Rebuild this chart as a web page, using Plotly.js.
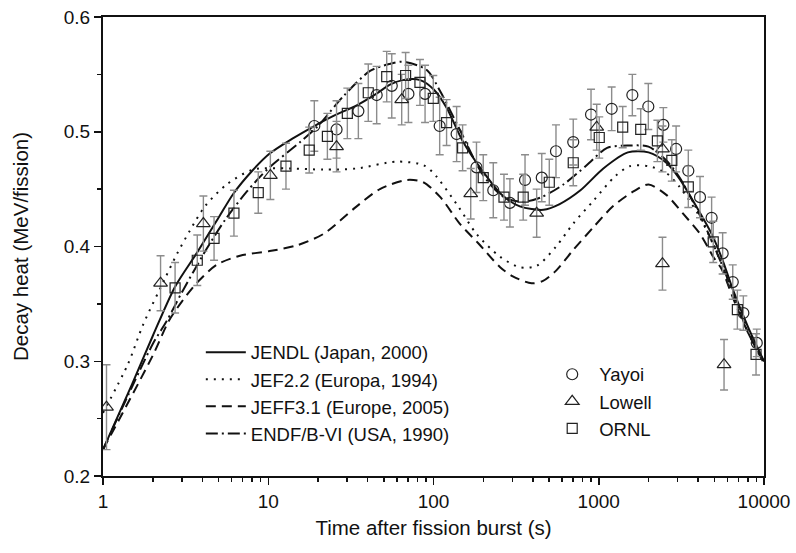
<!DOCTYPE html>
<html>
<head>
<meta charset="utf-8">
<script src="https://cdn.plot.ly/plotly-3.0.1.min.js"></script>
<style>html,body{margin:0;padding:0;background:#fff;}#chart{width:796px;height:553px;}</style>
</head>
<body>
<div id="chart"></div>
<script>
// ---- Evaluated library curves ----
const jendlX = [1, 1.5, 2, 2.73, 3.72, 5, 6.15, 8, 10.2, 14, 19, 25, 34.3, 45, 54.5, 65, 83, 100, 120, 150, 200, 259, 333, 463, 580, 775, 1066, 1500, 2000, 2563, 3085, 4000, 4820, 5620, 6500, 8000, 10000];
const jendlY = [0.223, 0.28, 0.322, 0.365, 0.395, 0.425, 0.446, 0.466, 0.481, 0.494, 0.505, 0.514, 0.523, 0.533, 0.541, 0.545, 0.545, 0.537, 0.521, 0.492, 0.465, 0.445, 0.435, 0.432, 0.437, 0.449, 0.468, 0.482, 0.482, 0.473, 0.459, 0.432, 0.411, 0.388, 0.362, 0.330, 0.300];

const jef22X = [1, 1.42, 1.75, 2.37, 2.79, 3.36, 4.14, 5.6, 8.1, 13.5, 21.6, 34.3, 59.6, 86.7, 100, 141, 182, 253, 333, 420, 552, 701, 931, 1251, 1540, 2000, 2563, 3085, 4000, 5000, 6500, 8000, 10000];
const jef22Y = [0.255, 0.298, 0.332, 0.372, 0.393, 0.414, 0.435, 0.454, 0.467, 0.468, 0.467, 0.468, 0.474, 0.471, 0.464, 0.435, 0.411, 0.391, 0.382, 0.383, 0.400, 0.420, 0.440, 0.461, 0.470, 0.470, 0.464, 0.452, 0.428, 0.400, 0.360, 0.328, 0.298];

const jeff31X = [1, 2, 2.5, 3, 3.68, 4.87, 6.75, 10.2, 14.9, 21.6, 34.3, 47.4, 69, 86.7, 110, 144, 186, 253, 302, 392, 460, 552, 701, 931, 1218, 1622, 2000, 2563, 3220, 4100, 4930, 5560, 6500, 8000, 10000];
const jeff31Y = [0.223, 0.305, 0.335, 0.352, 0.368, 0.384, 0.392, 0.396, 0.401, 0.411, 0.435, 0.450, 0.458, 0.456, 0.443, 0.420, 0.403, 0.382, 0.374, 0.368, 0.370, 0.379, 0.397, 0.417, 0.435, 0.448, 0.454, 0.445, 0.429, 0.411, 0.391, 0.380, 0.355, 0.325, 0.298];

const endfX = [1, 2, 2.43, 3, 4.24, 5.47, 7.43, 10, 15.6, 20, 28.5, 41.3, 54, 65, 90.7, 110, 144, 200, 267, 349, 450, 611, 848, 1124, 1540, 2000, 2563, 3085, 4000, 5000, 6500, 8000, 10000];
const endfY = [0.223, 0.315, 0.335, 0.36, 0.398, 0.423, 0.448, 0.468, 0.491, 0.505, 0.531, 0.553, 0.559, 0.561, 0.554, 0.535, 0.502, 0.462, 0.443, 0.439, 0.443, 0.454, 0.471, 0.486, 0.488, 0.487, 0.475, 0.460, 0.430, 0.400, 0.360, 0.325, 0.300];

// ---- Measurements ----
const yayoiX = [19, 25.9, 35.1, 45.3, 55.9, 70.5, 88.9, 109, 138, 182, 230, 290, 358, 452, 551, 701, 898, 1197, 1597, 1995, 2460, 2939, 3483, 4100, 4820, 5620, 6470, 7500, 9040];
const yayoiY = [0.505, 0.502, 0.518, 0.532, 0.540, 0.533, 0.533, 0.505, 0.498, 0.469, 0.449, 0.438, 0.458, 0.460, 0.483, 0.491, 0.515, 0.520, 0.532, 0.522, 0.506, 0.485, 0.466, 0.443, 0.425, 0.394, 0.369, 0.342, 0.316];
const yayoiErr = [0.022, 0.025, 0.024, 0.025, 0.028, 0.025, 0.025, 0.025, 0.024, 0.022, 0.024, 0.021, 0.022, 0.021, 0.023, 0.020, 0.022, 0.019, 0.018, 0.020, 0.015, 0.020, 0.018, 0.018, 0.018, 0.018, 0.015, 0.015, 0.012];

const lowellX = [1.05, 2.23, 4.05, 10.3, 25.9, 64.2, 168, 421, 972, 2430, 2430, 5730];
const lowellY = [0.260, 0.368, 0.420, 0.462, 0.487, 0.528, 0.446, 0.429, 0.504, 0.485, 0.385, 0.297];
const lowellErr = [0.037, 0.024, 0.024, 0.021, 0.022, 0.022, 0.022, 0.021, 0.020, 0.020, 0.023, 0.022];

const ornlX = [2.73, 3.72, 4.7, 6.2, 8.7, 12.8, 17.7, 22.8, 30.1, 40.3, 52.1, 67.8, 82.8, 99.7, 120, 150, 200, 267, 349, 502, 701, 1007, 1396, 1795, 2264, 2768, 3483, 4930, 6900, 8950];
const ornlY = [0.364, 0.388, 0.407, 0.429, 0.447, 0.470, 0.484, 0.496, 0.516, 0.534, 0.548, 0.549, 0.543, 0.529, 0.508, 0.486, 0.460, 0.443, 0.443, 0.456, 0.473, 0.495, 0.504, 0.502, 0.492, 0.475, 0.452, 0.404, 0.345, 0.306];
const ornlErr = [0.022, 0.022, 0.019, 0.020, 0.018, 0.020, 0.020, 0.020, 0.022, 0.025, 0.022, 0.020, 0.020, 0.020, 0.020, 0.020, 0.020, 0.020, 0.020, 0.020, 0.020, 0.018, 0.018, 0.018, 0.018, 0.018, 0.018, 0.018, 0.017, 0.018];

const lineNames = ['JENDL (Japan, 2000)', 'JEF2.2 (Europa, 1994)', 'JEFF3.1 (Europe, 2005)', 'ENDF/B-VI (USA, 1990)'];
const markerNames = ['Yayoi', 'Lowell', 'ORNL'];

const FONT = 'Liberation Sans, Arial, Helvetica, sans-serif';
const ink = '#111';

function curve(x, y, name, dash, g) {
  return {x: x, y: y, name: name, type: 'scatter', mode: 'lines', legend: 'legend', legendgroup: g,
    line: {color: ink, width: 2, dash: dash, shape: 'spline', smoothing: 0.8}};
}
function meas(x, y, e, name, sym, size, g) {
  return {x: x, y: y, name: name, type: 'scatter', mode: 'markers', legend: 'legend2', legendgroup: g,
    marker: {symbol: sym, size: size, color: '#222', line: {color: '#222', width: 1.2}},
    error_y: {type: 'data', array: e, visible: true, color: '#8c8c8c', thickness: 1.4, width: 4}};
}

const data = [
  curve(jendlX, jendlY, lineNames[0], 'solid', 'a'),
  curve(jef22X, jef22Y, lineNames[1], '2px,6px', 'b'),
  curve(jeff31X, jeff31Y, lineNames[2], '10px,6px', 'c'),
  curve(endfX, endfY, lineNames[3], '12px,4px,2px,4px', 'd'),
  meas(yayoiX, yayoiY, yayoiErr, markerNames[0], 'circle-open', 11, 'e'),
  meas(lowellX, lowellY, lowellErr, markerNames[1], 'triangle-up-open', 12, 'f'),
  meas(ornlX, ornlY, ornlErr, markerNames[2], 'square-open', 10, 'g')
];

const layout = {
  width: 796, height: 553,
  margin: {l: 103, r: 32, t: 17, b: 77},
  paper_bgcolor: '#fff', plot_bgcolor: '#fff',
  font: {family: FONT, size: 18, color: ink},
  showlegend: true,
  xaxis: {
    type: 'log', range: [0, 4], dtick: 1, tickformat: 'd',
    showgrid: false, zeroline: false, showline: true, linecolor: ink, linewidth: 2, mirror: true,
    ticks: 'outside', ticklen: 7, tickwidth: 1.5, tickcolor: ink,
    minor: {dtick: 'D1', ticks: 'outside', ticklen: 4, tickwidth: 1.5, tickcolor: ink, showgrid: false},
    tickfont: {size: 19, family: FONT, color: ink},
    title: {text: 'Time after fission burst (s)', font: {size: 20.5, family: FONT, color: ink}, standoff: 10}
  },
  yaxis: {
    range: [0.2, 0.6], dtick: 0.1, tickformat: '.1f',
    showgrid: false, zeroline: false, showline: true, linecolor: ink, linewidth: 2, mirror: true,
    ticks: 'outside', ticklen: 7, tickwidth: 1.5, tickcolor: ink,
    minor: {dtick: 0.05, ticks: 'outside', ticklen: 4, tickwidth: 1.5, tickcolor: ink, showgrid: false},
    tickfont: {size: 19, family: FONT, color: ink},
    title: {text: 'Decay heat (MeV/fission)', font: {size: 20.5, family: FONT, color: ink}, standoff: 30}
  },
  legend: {x: 0.148, y: 0.31, xanchor: 'left', yanchor: 'top', bgcolor: 'rgba(0,0,0,0)',
    font: {size: 18.5, family: FONT, color: ink}, tracegroupgap: 0, traceorder: 'grouped', itemwidth: 40},
  legend2: {x: 0.669, y: 0.262, xanchor: 'left', yanchor: 'top', bgcolor: 'rgba(0,0,0,0)',
    font: {size: 18.5, family: FONT, color: ink}, tracegroupgap: 0, traceorder: 'grouped', itemwidth: 44}
};

Plotly.newPlot('chart', data, layout, {displayModeBar: false, staticPlot: true});
</script>
</body>
</html>
